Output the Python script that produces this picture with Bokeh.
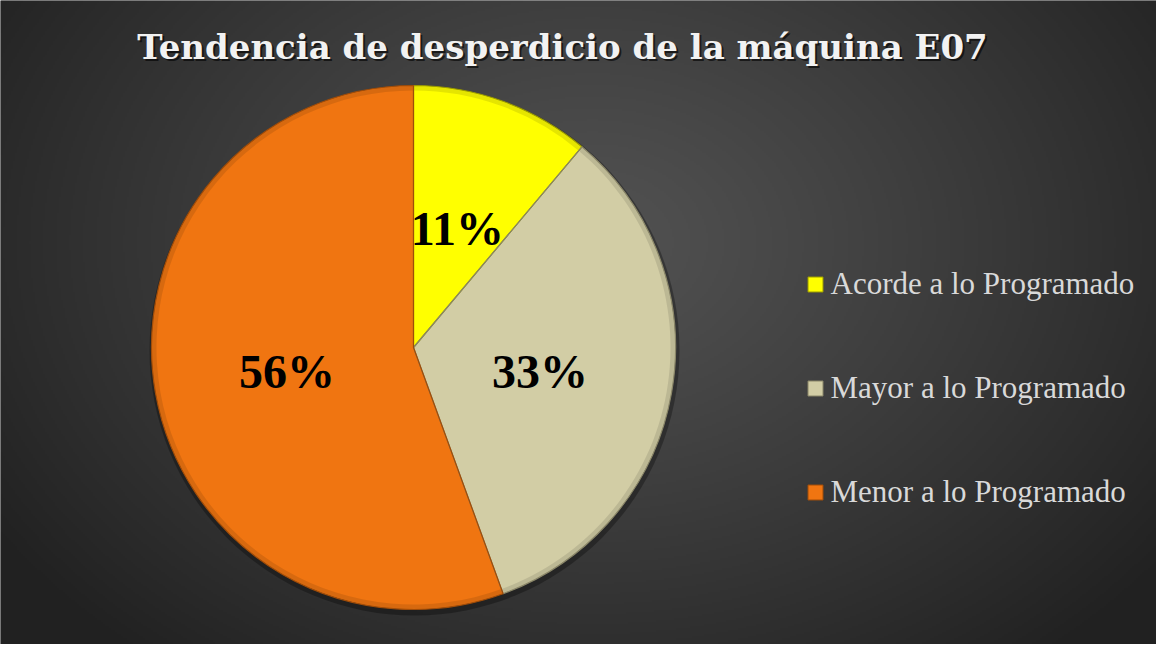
import numpy as np
from bokeh.plotting import figure
from bokeh.models import Range1d
from bokeh.core.properties import value
from bokeh.embed import file_html
from bokeh.resources import INLINE

# ---- data ----
title_text = "Tendencia de desperdicio de la máquina E07"
categories = ["Acorde a lo Programado", "Mayor a lo Programado", "Menor a lo Programado"]
counts = [1, 3, 5]
pct_labels = ["11%", "33%", "56%"]
colors = ["#FFFF00", "#D2CDA5", "#F07511"]
edge_colors = ["#9a9a00", "#8a8668", "#a04c08"]

# ---- layout (page pixel coords; figure frame starts at page (8, 8)) ----
W, H = 1156, 644
PAGE_H = 660

def py(y):  # page y -> data y
    return PAGE_H - y

p = figure(width=W, height=H, output_backend="svg", toolbar_location=None,
           x_range=Range1d(8, 8 + W), y_range=Range1d(PAGE_H - 8 - H, PAGE_H - 8),
           x_axis_location=None, y_axis_location=None, min_border=0,
           background_fill_color="#333333", border_fill_color="#333333")
p.grid.visible = False
p.outline_line_color = None

# background radial gradient
sw, sh = W // 2, H // 2
xs = np.linspace(8, 8 + W, sw)
ys = np.linspace(PAGE_H - 8 - H, PAGE_H - 8, sh)  # data y (bottom -> top)
X, Y = np.meshgrid(xs, ys)
cx, cy = 600, py(250)
d = np.sqrt(((X - cx) / 720.0) ** 2 + ((Y - cy) / 540.0) ** 2)
d = np.clip(d, 0, 1)
g = (0x52 - (0x52 - 0x21) * d ** 1.15).astype(np.uint8)
img = np.empty((sh, sw), dtype=np.uint32)
view = img.view(dtype=np.uint8).reshape((sh, sw, 4))
view[:, :, 0] = g
view[:, :, 1] = g
view[:, :, 2] = g
view[:, :, 3] = 255
p.image_rgba(image=[img], x=8, y=PAGE_H - 8 - H, dw=W, dh=H)

# pie
pcx, pcy, R = 421, py(355), 262
total = float(sum(counts))
cum = np.cumsum([0] + counts) / total
starts = np.pi / 2 - 2 * np.pi * cum[:-1]
ends = np.pi / 2 - 2 * np.pi * cum[1:]

# soft shadow
p.circle(x=pcx + 1, y=pcy - 3, radius=R + 3, fill_color="black", fill_alpha=0.3, line_color=None)

p.wedge(x=[pcx] * 3, y=[pcy] * 3, radius=R, start_angle=list(starts), end_angle=list(ends),
        direction="clock", fill_color=colors, line_color=None)
# bevel rim
p.annular_wedge(x=[pcx] * 3, y=[pcy] * 3, inner_radius=R - 5, outer_radius=R,
                start_angle=list(starts), end_angle=list(ends), direction="clock",
                fill_color="black", fill_alpha=0.10, line_color=None)
p.wedge(x=[pcx] * 3, y=[pcy] * 3, radius=R, start_angle=list(starts), end_angle=list(ends),
        direction="clock", fill_color=None, line_color=edge_colors, line_width=1.2)

# data labels
mids = (starts + ends) / 2
lr = 0.49 * R
lx = pcx + lr * np.cos(mids)
ly = pcy + lr * np.sin(mids)
p.text(x=list(lx), y=list(ly - 2), text=pct_labels, text_align="center", text_baseline="middle",
       text_font=value("Liberation Serif"), text_font_style="bold", text_font_size="48px",
       text_color="black")

# title (with shadow)
p.text(x=[572], y=[py(56.5)], text=[title_text], text_align="center", text_baseline="middle",
       text_font=value("DejaVu Serif"), text_font_style="bold", text_font_size="34px",
       text_color="black", text_alpha=0.6)
p.text(x=[570], y=[py(54.5)], text=[title_text], text_align="center", text_baseline="middle",
       text_font=value("DejaVu Serif"), text_font_style="bold", text_font_size="34px",
       text_color="#F2F2F2")

# legend
leg_y = [292, 396, 500]
p.rect(x=[823] * 3, y=[py(v) for v in leg_y], width=15, height=15,
       fill_color=colors, line_color=edge_colors, line_width=1)
p.text(x=[838] * 3, y=[py(v - 1) for v in leg_y], text=categories,
       text_align="left", text_baseline="middle",
       text_font=value("Liberation Serif"), text_font_size="31px", text_color="#D9D9D9")

open("out.html", "w").write(file_html(p, INLINE))
